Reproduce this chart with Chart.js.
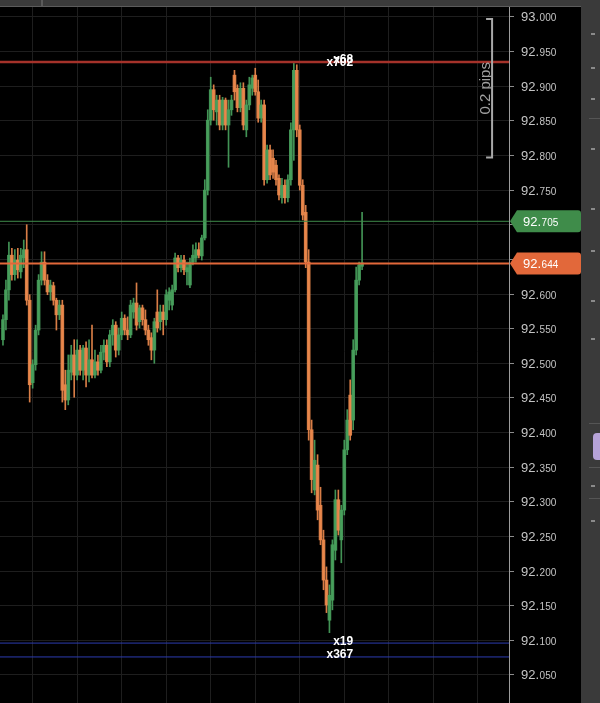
<!DOCTYPE html>
<html>
<head>
<meta charset="utf-8">
<script src="https://cdn.jsdelivr.net/npm/chart.js@4.4.1/dist/chart.umd.min.js"></script>
<style>
  html, body { margin: 0; padding: 0; background: #000; }
  #wrap { position: relative; width: 600px; height: 703px; overflow: hidden; background: #000; }
  #chart { position: absolute; left: 0; top: 0; }
  #topbar { position: absolute; left: 0; top: 0; width: 581px; height: 6px; background: #3b3b3b; border-bottom: 1px solid #5c5c5c; }
  #topbar .sep { position: absolute; left: 41px; top: 0; width: 2px; height: 6px; background: #5a5a5a; }
  #side { position: absolute; left: 581px; top: 0; width: 19px; height: 703px; background: #3a3a3a; }
  #side .line { position: absolute; left: 8px; width: 11px; height: 1px; background: #555; }
  #side .mark { position: absolute; left: 10px; width: 4px; height: 2px; background: #8a8a8a; }
  #side .pill { position: absolute; left: 12px; top: 433px; width: 10px; height: 27px; border-radius: 4px; background: #b6a3d8; }
</style>
</head>
<body>
<div id="wrap">
  <canvas id="chart" width="581" height="703"></canvas>
  <div id="topbar"><div class="sep"></div></div>
  <div id="side">
    <div class="mark" style="top:33px"></div>
    <div class="mark" style="top:67px"></div>
    <div class="mark" style="top:98px"></div>
    <div class="line" style="top:118px"></div>
    <div class="mark" style="top:148px"></div>
    <div class="mark" style="top:208px"></div>
    <div class="mark" style="top:250px"></div>
    <div class="mark" style="top:300px"></div>
    <div class="mark" style="top:338px"></div>
    <div class="line" style="top:423px"></div>
    <div class="pill"></div>
    <div class="line" style="top:467px"></div>
    <div class="mark" style="top:485px"></div>
    <div class="line" style="top:498px"></div>
    <div class="mark" style="top:520px"></div>
  </div>
</div>
<script>
// candle times (bar index) and OHLC prices
const times = [
  5, 6, 7, 8, 9, 10, 11, 12, 13, 14,
  15, 16, 17, 18, 19, 20, 21, 22, 23, 24,
  25, 26, 27, 28, 29, 30, 31, 32, 33, 34,
  35, 36, 37, 38, 39, 40, 41, 42, 43, 44,
  45, 46, 47, 48, 49, 50, 51, 52, 53, 54,
  55, 56, 57, 58, 59, 60, 61, 62, 63, 64,
  65, 66, 67, 68, 69, 70, 71, 72, 73, 74,
  75, 76, 77, 78, 79, 80, 81, 82, 83, 84,
  85, 86, 87, 88, 89, 90, 91, 92, 93, 94,
  95, 96, 97, 98, 99, 100, 101, 102, 103, 104,
  105, 106, 107, 108, 109, 110, 111, 112, 113, 114,
  115, 116, 117, 118, 119, 120, 121, 122, 123, 124,
  125, 126
];
const open = [
  92.534, 92.563, 92.606, 92.656, 92.628, 92.649, 92.632, 92.652, 92.664, 92.591,
  92.472, 92.498, 92.548, 92.620, 92.646, 92.620, 92.603, 92.612, 92.591, 92.570,
  92.584, 92.469, 92.447, 92.487, 92.512, 92.483, 92.519, 92.490, 92.522, 92.483,
  92.505, 92.483, 92.502, 92.490, 92.516, 92.526, 92.502, 92.541, 92.555, 92.519,
  92.541, 92.565, 92.548, 92.541, 92.574, 92.587, 92.560, 92.580, 92.563, 92.548,
  92.537, 92.519, 92.574, 92.560, 92.574, 92.563, 92.591, 92.584, 92.606, 92.652,
  92.638, 92.649, 92.632, 92.613, 92.646, 92.652, 92.664, 92.655, 92.681, 92.750,
  92.851, 92.895, 92.863, 92.880, 92.844, 92.880, 92.844, 92.866, 92.916, 92.897,
  92.869, 92.897, 92.837, 92.873, 92.897, 92.916, 92.892, 92.854, 92.873, 92.765,
  92.808, 92.796, 92.786, 92.767, 92.739, 92.757, 92.739, 92.765, 92.837, 92.923,
  92.837, 92.757, 92.718, 92.646, 92.404, 92.317, 92.353, 92.295, 92.245, 92.187,
  92.129, 92.158, 92.230, 92.303, 92.245, 92.288, 92.375, 92.454, 92.418, 92.519,
  92.620, 92.640
];
const high = [
  92.570, 92.620, 92.675, 92.666, 92.664, 92.666, 92.666, 92.678, 92.700, 92.599,
  92.505, 92.555, 92.628, 92.661, 92.661, 92.628, 92.620, 92.617, 92.594, 92.591,
  92.591, 92.490, 92.512, 92.526, 92.534, 92.534, 92.526, 92.526, 92.531, 92.534,
  92.555, 92.519, 92.512, 92.526, 92.534, 92.534, 92.548, 92.563, 92.560, 92.551,
  92.574, 92.570, 92.567, 92.591, 92.594, 92.616, 92.584, 92.584, 92.577, 92.555,
  92.544, 92.565, 92.606, 92.584, 92.584, 92.606, 92.609, 92.613, 92.659, 92.656,
  92.656, 92.656, 92.646, 92.652, 92.671, 92.674, 92.674, 92.685, 92.765, 92.866,
  92.913, 92.902, 92.887, 92.887, 92.884, 92.883, 92.880, 92.887, 92.923, 92.902,
  92.905, 92.905, 92.880, 92.913, 92.916, 92.926, 92.909, 92.880, 92.880, 92.815,
  92.815, 92.808, 92.793, 92.772, 92.767, 92.765, 92.772, 92.847, 92.934, 92.931,
  92.844, 92.765, 92.728, 92.664, 92.418, 92.389, 92.368, 92.321, 92.259, 92.206,
  92.180, 92.245, 92.317, 92.317, 92.295, 92.389, 92.433, 92.476, 92.534, 92.639,
  92.646, 92.718
];
const low = [
  92.526, 92.548, 92.591, 92.620, 92.620, 92.623, 92.623, 92.638, 92.584, 92.444,
  92.464, 92.490, 92.541, 92.613, 92.613, 92.599, 92.591, 92.584, 92.548, 92.563,
  92.444, 92.433, 92.440, 92.476, 92.451, 92.476, 92.483, 92.476, 92.466, 92.473,
  92.479, 92.479, 92.483, 92.486, 92.505, 92.495, 92.495, 92.526, 92.509, 92.512,
  92.534, 92.541, 92.534, 92.537, 92.565, 92.548, 92.551, 92.555, 92.541, 92.526,
  92.505, 92.500, 92.545, 92.548, 92.541, 92.555, 92.577, 92.577, 92.603, 92.632,
  92.632, 92.628, 92.613, 92.609, 92.642, 92.646, 92.652, 92.649, 92.678, 92.743,
  92.844, 92.851, 92.844, 92.837, 92.837, 92.837, 92.783, 92.858, 92.880, 92.863,
  92.863, 92.837, 92.827, 92.866, 92.887, 92.887, 92.848, 92.848, 92.757, 92.760,
  92.765, 92.767, 92.757, 92.736, 92.731, 92.731, 92.733, 92.757, 92.793, 92.827,
  92.750, 92.707, 92.638, 92.389, 92.313, 92.310, 92.274, 92.238, 92.173, 92.140,
  92.111, 92.144, 92.216, 92.252, 92.212, 92.281, 92.368, 92.389, 92.404, 92.512,
  92.613, 92.635
];
const close = [
  92.563, 92.606, 92.656, 92.628, 92.649, 92.635, 92.656, 92.664, 92.591, 92.469,
  92.498, 92.548, 92.620, 92.646, 92.620, 92.603, 92.613, 92.591, 92.570, 92.584,
  92.461, 92.447, 92.490, 92.512, 92.483, 92.519, 92.490, 92.522, 92.483, 92.505,
  92.483, 92.502, 92.490, 92.516, 92.526, 92.502, 92.541, 92.555, 92.519, 92.541,
  92.565, 92.548, 92.541, 92.584, 92.587, 92.555, 92.580, 92.563, 92.548, 92.534,
  92.519, 92.560, 92.551, 92.574, 92.563, 92.599, 92.603, 92.606, 92.652, 92.638,
  92.649, 92.635, 92.638, 92.646, 92.656, 92.664, 92.656, 92.681, 92.750, 92.851,
  92.895, 92.866, 92.880, 92.844, 92.880, 92.844, 92.866, 92.880, 92.892, 92.869,
  92.897, 92.844, 92.873, 92.902, 92.912, 92.892, 92.854, 92.873, 92.765, 92.808,
  92.772, 92.776, 92.765, 92.743, 92.757, 92.739, 92.765, 92.837, 92.923, 92.837,
  92.757, 92.714, 92.646, 92.404, 92.332, 92.360, 92.288, 92.245, 92.187, 92.151,
  92.165, 92.238, 92.303, 92.259, 92.288, 92.375, 92.418, 92.396, 92.519, 92.620,
  92.642, 92.645
];

// axis ticks
const yTicks = [93.000, 92.950, 92.900, 92.850, 92.800, 92.750, 92.700, 92.650, 92.600,
  92.550, 92.500, 92.450, 92.400, 92.350, 92.300, 92.250, 92.200, 92.150, 92.100, 92.050];
const xGridTimes = [15, 30, 45, 60, 75, 90, 105, 120, 135, 150, 165];

// horizontal levels
const topLevel = 92.935;
const askLevel = 92.705;
const bidLevel = 92.644;
const lowLevels = [92.096, 92.076];

// count labels on the levels
const countTexts = ['x702', 'x68', 'x19', 'x367'];
const countPrices = [92.934, 92.938, 92.098, 92.079];
const countTime = 123;

// price tags on the axis
const tagPrices = [askLevel, bidLevel];

// range bracket
const pipsRange = [92.997, 92.797];
const pipsText = '0.2 pips';
const pipsTime = 169.8;

const X_MIN = 4, X_MAX = 175.5;
const GREEN = 'rgba(72,160,92,0.92)';
const ORANGE = 'rgba(234,136,76,0.92)';
const upColor = (ctx) => close[ctx.dataIndex] >= open[ctx.dataIndex] ? GREEN : ORANGE;

const levelLine = (price, color, width) => ({
  type: 'line',
  data: [{ x: X_MIN, y: price }, { x: X_MAX, y: price }],
  borderColor: color,
  borderWidth: width,
  pointRadius: 0,
  order: 0
});

const overlayPlugin = {
  id: 'overlay',
  afterDatasetsDraw(chart) {
    const { ctx } = chart;
    const xs = chart.scales.x, ys = chart.scales.y;
    ctx.save();

    // count labels
    ctx.font = 'bold 12px "Liberation Sans"';
    ctx.fillStyle = '#ffffff';
    ctx.textAlign = 'right';
    ctx.textBaseline = 'middle';
    const cx = xs.getPixelForValue(countTime);
    countTexts.forEach((t, i) => {
      ctx.fillText(t, cx, ys.getPixelForValue(countPrices[i]));
    });

    // pips bracket
    const px = xs.getPixelForValue(pipsTime);
    const pTop = ys.getPixelForValue(pipsRange[0]);
    const pBot = ys.getPixelForValue(pipsRange[1]);
    ctx.strokeStyle = '#a8a8a8';
    ctx.lineWidth = 2;
    ctx.beginPath();
    ctx.moveTo(px - 6, pTop);
    ctx.lineTo(px, pTop);
    ctx.lineTo(px, pBot);
    ctx.lineTo(px - 6, pBot);
    ctx.stroke();
    ctx.translate(px - 2, (pTop + pBot) / 2);
    ctx.rotate(-Math.PI / 2);
    ctx.font = '15px "Liberation Sans"';
    ctx.fillStyle = '#a0a0a0';
    ctx.textAlign = 'center';
    ctx.textBaseline = 'alphabetic';
    ctx.fillText(pipsText, 0, 0);
    ctx.restore();
  },
  afterDraw(chart) {
    const { ctx } = chart;
    const ys = chart.scales.y;
    ctx.save();
    ctx.textAlign = 'left';
    ctx.textBaseline = 'alphabetic';

    // axis labels: big integer part, small decimals
    const x0 = ys.left + 12;
    ys.ticks.forEach((t) => {
      const py = ys.getPixelForValue(t.value);
      const [whole, dec] = t.value.toFixed(3).split('.');
      ctx.fillStyle = '#c4c4c4';
      ctx.font = '13px "Liberation Sans"';
      ctx.fillText(whole + '.', x0, py + 4.5);
      const w = ctx.measureText(whole + '.').width;
      ctx.font = '10px "Liberation Sans"';
      ctx.fillText(dec, x0 + w + 0.5, py + 4.5);
    });

    // price tags
    const tagColors = ['#3f8c4a', '#e2683a'];
    tagPrices.forEach((p, i) => {
      const py = ys.getPixelForValue(p);
      const left = ys.left + 1, body = left + 7, right = chart.width, hh = 11;
      ctx.fillStyle = tagColors[i];
      ctx.beginPath();
      ctx.moveTo(left, py);
      ctx.lineTo(body, py - hh);
      ctx.lineTo(right - 3, py - hh);
      ctx.arcTo(right, py - hh, right, py - hh + 3, 3);
      ctx.lineTo(right, py + hh - 3);
      ctx.arcTo(right, py + hh, right - 3, py + hh, 3);
      ctx.lineTo(body, py + hh);
      ctx.closePath();
      ctx.fill();
      const [whole, dec] = p.toFixed(3).split('.');
      ctx.fillStyle = '#ffffff';
      ctx.font = '13px "Liberation Sans"';
      ctx.fillText(whole + '.', x0 + 2, py + 4.5);
      const w = ctx.measureText(whole + '.').width;
      ctx.font = '10px "Liberation Sans"';
      ctx.fillText(dec, x0 + 2 + w + 0.5, py + 4.5);
    });
    ctx.restore();
  }
};

new Chart(document.getElementById('chart').getContext('2d'), {
  type: 'bar',
  data: {
    datasets: [
      levelLine(topLevel, '#a5322a', 2.5),
      levelLine(askLevel, '#3f8c4a', 1),
      levelLine(bidLevel, '#e2683a', 2),
      levelLine(lowLevels[0], '#2c3cb0', 1),
      levelLine(lowLevels[1], '#2c3cb0', 1),
      {
        // bodies
        data: times.map((t, i) => ({ x: t, y: [open[i], close[i]] })),
        backgroundColor: upColor,
        barThickness: 3,
        minBarLength: 1,
        grouped: false,
        order: 1
      },
      {
        // wicks
        data: times.map((t, i) => ({ x: t, y: [low[i], high[i]] })),
        backgroundColor: upColor,
        barThickness: 1,
        grouped: false,
        order: 2
      }
    ]
  },
  options: {
    responsive: false,
    animation: false,
    layout: { padding: 0 },
    plugins: {
      legend: { display: false },
      tooltip: { enabled: false }
    },
    scales: {
      x: {
        type: 'linear',
        min: X_MIN,
        max: X_MAX,
        offset: false,
        ticks: { display: false },
        grid: { color: '#1e1e1e', drawTicks: false, offset: false },
        border: { display: false },
        afterBuildTicks: (scale) => { scale.ticks = xGridTimes.map((v) => ({ value: v })); },
        afterFit: (scale) => { scale.height = 0; }
      },
      y: {
        type: 'linear',
        position: 'right',
        min: 92.0095,
        max: 93.0245,
        ticks: { display: false },
        grid: { color: '#1e1e1e', tickColor: '#8c8c8c', tickLength: 5, drawTicks: true },
        border: { color: '#9c9c9c', width: 1 },
        afterBuildTicks: (scale) => { scale.ticks = yTicks.map((v) => ({ value: v })); },
        afterFit: (scale) => { scale.width = 72; }
      }
    }
  },
  plugins: [overlayPlugin]
});
</script>
</body>
</html>
